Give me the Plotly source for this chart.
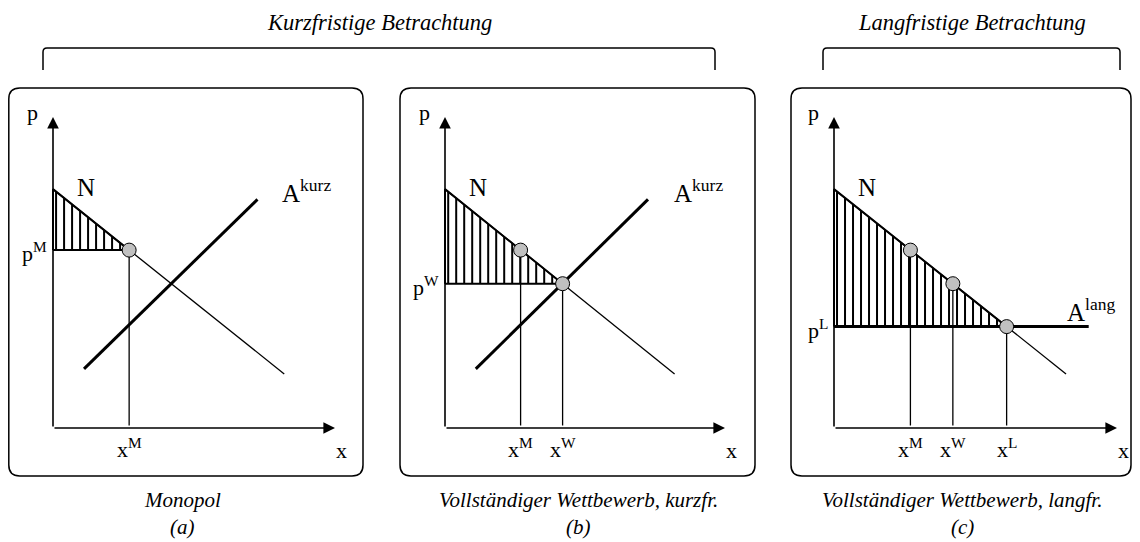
import plotly.graph_objects as go

# page body has an 8px margin: the figure is drawn 8px right/down of the window origin
OFF = 8
W, H = 1140 - OFF, 542 - OFF

# ---------------- data (economic units: quantity x, price p) ----------------
demand_x = [0.0, 8.2]
demand_p = [7.68, 1.74]
supply_short_x = [1.1, 7.25]
supply_short_p = [1.9, 7.35]
supply_long_x = [0.0, 9.0]
x_M, p_M = 2.7, 5.72
x_W, p_W = 4.2, 4.64
x_L, p_L = 6.1, 3.26
supply_long_p = [p_L, p_L]
p_max = demand_p[0]
axis_max = 10.0

titles_top = ["Kurzfristige Betrachtung", "Langfristige Betrachtung"]
panel_names = ["Monopol", "Vollständiger Wettbewerb, kurzfr.", "Vollständiger Wettbewerb, langfr."]
panel_letters = ["(a)", "(b)", "(c)"]

# ---------------- layout helpers (window pixel -> paper) ----------------
FONT = "Liberation Serif"
OY, UY = 428, 31.1
RMIN, RMAX = -0.6, 10.6


def X(px):
    return (px - OFF) / W


def Y(py):
    return 1 - (py - OFF) / H


def rounded_box(x0, y0, x1, y1, r):
    rx, ry = r / W, r / H
    a, b, c, d = X(x0), Y(y0), X(x1), Y(y1)
    return (f"M {a+rx},{b} L {c-rx},{b} Q {c},{b} {c},{b-ry} "
            f"L {c},{d+ry} Q {c},{d} {c-rx},{d} L {a+rx},{d} "
            f"Q {a},{d} {a},{d+ry} L {a},{b-ry} Q {a},{b} {a+rx},{b} Z")


def bracket(x0, x1, ytop, ybot, r=4):
    rx, ry = r / W, r / H
    return (f"M {X(x0)},{Y(ybot)} L {X(x0)},{Y(ytop)-ry} Q {X(x0)},{Y(ytop)} {X(x0)+rx},{Y(ytop)} "
            f"L {X(x1)-rx},{Y(ytop)} Q {X(x1)},{Y(ytop)} {X(x1)},{Y(ytop)-ry} L {X(x1)},{Y(ybot)}")


panels = [
    dict(ox=53, ux=28.2, box=(8.8, 363), center=182,
         tri=(x_M, p_M), pts=[(x_M, p_M)], supply=(supply_short_x, supply_short_p),
         plabel=("p<sup>M</sup>", p_M), xlabels=[("x<sup>M</sup>", x_M)],
         alabel=("A<sup>kurz</sup>", 8.05, 7.62)),
    dict(ox=445, ux=28.0, box=(400, 755), center=578,
         tri=(x_W, p_W), pts=[(x_M, p_M), (x_W, p_W)], supply=(supply_short_x, supply_short_p),
         plabel=("p<sup>W</sup>", p_W), xlabels=[("x<sup>M</sup>", x_M), ("x<sup>W</sup>", x_W)],
         alabel=("A<sup>kurz</sup>", 8.1, 7.62)),
    dict(ox=834, ux=28.3, box=(791, 1131), center=962,
         tri=(x_L, p_L), pts=[(x_M, p_M), (x_W, p_W), (x_L, p_L)], supply=(supply_long_x, supply_long_p),
         plabel=("p<sup>L</sup>", p_L), xlabels=[("x<sup>M</sup>", x_M), ("x<sup>W</sup>", x_W), ("x<sup>L</sup>", x_L)],
         alabel=("A<sup>lang</sup>", 8.16, 3.8)),
]

fig = go.Figure()
shapes = []
annotations = []

for i, P in enumerate(panels):
    k = "" if i == 0 else str(i + 1)
    xa, ya = "x" + k, "y" + k
    ox, ux = P["ox"], P["ux"]
    xdom = [X(ox + RMIN * ux), X(ox + RMAX * ux)]
    ydom = [Y(OY - RMIN * UY), Y(OY - RMAX * UY)]
    fig.update_layout(**{
        f"xaxis{k}": dict(domain=xdom, range=[RMIN, RMAX], visible=False, fixedrange=True, anchor=ya),
        f"yaxis{k}": dict(domain=ydom, range=[RMIN, RMAX], visible=False, fixedrange=True, anchor=xa),
    })

    tx, tp = P["tri"]
    # hatched consumer surplus triangle
    fig.add_trace(go.Scatter(
        x=[0, tx, 0, 0], y=[tp, tp, p_max, tp], xaxis=xa, yaxis=ya, mode="lines",
        fill="toself", fillcolor="white",
        fillpattern=dict(shape="|", size=8, solidity=0.25, fgcolor="black", bgcolor="white",
                         fgopacity=1, fillmode="replace"),
        line=dict(color="black", width=2), hoverinfo="skip", showlegend=False))
    # demand
    fig.add_trace(go.Scatter(x=demand_x, y=demand_p, xaxis=xa, yaxis=ya, mode="lines",
                             line=dict(color="black", width=1.3), hoverinfo="skip", showlegend=False))
    # supply
    sx, sp = P["supply"]
    fig.add_trace(go.Scatter(x=sx, y=sp, xaxis=xa, yaxis=ya, mode="lines",
                             line=dict(color="black", width=3), hoverinfo="skip", showlegend=False))
    # vertical drop lines
    for (px_, pp_) in P["pts"]:
        fig.add_trace(go.Scatter(x=[px_, px_], y=[pp_, 0.08], xaxis=xa, yaxis=ya, mode="lines",
                                 line=dict(color="black", width=1.3), hoverinfo="skip", showlegend=False))
    # equilibrium points
    fig.add_trace(go.Scatter(x=[q for q, _ in P["pts"]], y=[v for _, v in P["pts"]], xaxis=xa, yaxis=ya,
                             mode="markers", cliponaxis=False,
                             marker=dict(size=14, color="#c0c0c0", line=dict(color="black", width=1)),
                             hoverinfo="skip", showlegend=False))

    # axes with arrow heads
    for (ex, ey) in [(axis_max, 0), (0, axis_max)]:
        annotations.append(dict(x=ex, y=ey, ax=0, ay=0, xref=xa, yref=ya, axref=xa, ayref=ya,
                                text="", showarrow=True, arrowhead=2, arrowsize=1.45, arrowwidth=1.6,
                                arrowcolor="black", standoff=0))

    lab = dict(xref=xa, yref=ya, showarrow=False, font=dict(family=FONT, size=22, color="black"))
    big = dict(xref=xa, yref=ya, showarrow=False, font=dict(family=FONT, size=25, color="black"))
    annotations.append(dict(x=0, y=axis_max, text="p", xanchor="center", yanchor="middle",
                            xshift=-21, yshift=4, **lab))
    annotations.append(dict(x=axis_max, y=0, text="x", xanchor="center", yanchor="middle",
                            xshift=6, yshift=-22, **lab))
    annotations.append(dict(x=1.17, y=7.72, text="N", xanchor="center", yanchor="middle", **big))
    atext, ax_, ap_ = P["alabel"]
    annotations.append(dict(x=ax_, y=ap_, text=atext, xanchor="left", yanchor="middle", **big))
    ptext, pval = P["plabel"]
    annotations.append(dict(x=0, y=pval, text=ptext, xanchor="right", yanchor="middle",
                            xshift=-4, yshift=-2, **lab))
    for (t, q) in P["xlabels"]:
        annotations.append(dict(x=q, y=0, text=t, xanchor="center", yanchor="middle", yshift=-20, **lab))

    # rounded frame
    bx0, bx1 = P["box"]
    shapes.append(dict(type="path", xref="paper", yref="paper", path=rounded_box(bx0, 88, bx1, 476, 11),
                       line=dict(color="black", width=1.5)))
    # captions below
    annotations.append(dict(x=X(P["center"]), y=Y(500), xref="paper", yref="paper", showarrow=False,
                            xanchor="center", yanchor="middle",
                            text=f"<i>{panel_names[i]}</i>", font=dict(family=FONT, size=21, color="black")))
    annotations.append(dict(x=X(P["center"]), y=Y(527), xref="paper", yref="paper", showarrow=False,
                            xanchor="center", yanchor="middle",
                            text=f"<i>{panel_letters[i]}</i>", font=dict(family=FONT, size=21, color="black")))

# brackets and top titles
for (x0, x1), title in zip([(43, 715), (823, 1120)], titles_top):
    shapes.append(dict(type="path", xref="paper", yref="paper", path=bracket(x0, x1, 48, 70),
                       line=dict(color="black", width=1.5)))
    annotations.append(dict(x=X((x0 + x1) / 2), y=Y(23), xref="paper", yref="paper", showarrow=False,
                            xanchor="center", yanchor="middle",
                            text=f"<i>{title}</i>", font=dict(family=FONT, size=22.5, color="black")))

fig.update_layout(width=W, height=H, margin=dict(l=0, r=0, t=0, b=0),
                  font=dict(family=FONT, color="black"),
                  paper_bgcolor="white", plot_bgcolor="white",
                  shapes=shapes, annotations=annotations, showlegend=False)

fig.write_html("out.html")
